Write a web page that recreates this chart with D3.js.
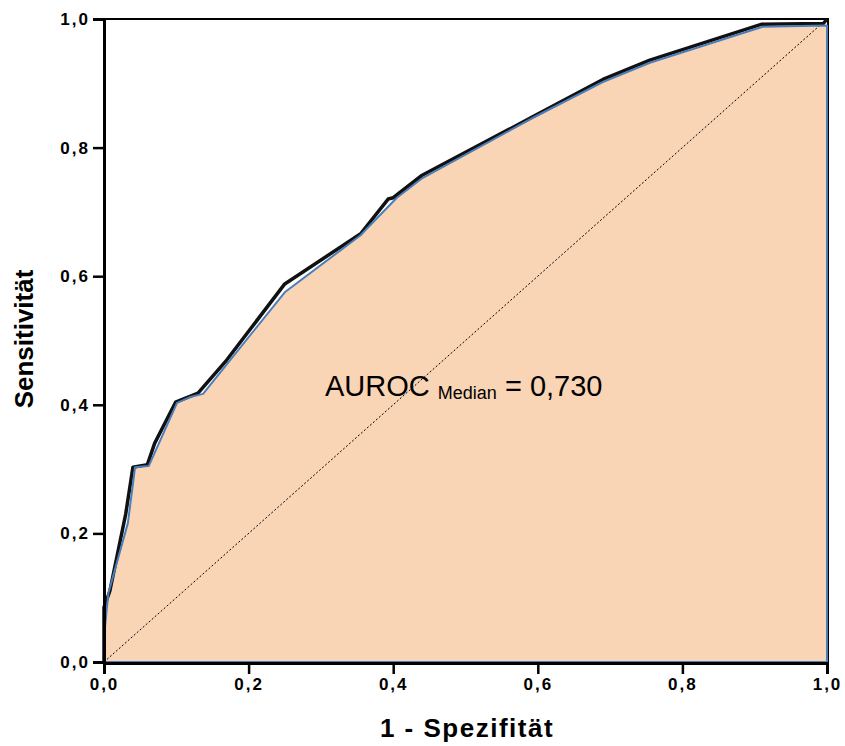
<!DOCTYPE html>
<html>
<head>
<meta charset="utf-8">
<script src="https://cdn.jsdelivr.net/npm/d3@7"></script>
<style>
  body { margin: 0; background: #fff; }
  svg { display: block; }
</style>
</head>
<body>
<div class="canvas"></div>
<script>
// data
// empirical ROC curve (black)
const rocX = [0, 0, 0.008, 0.03, 0.04, 0.06, 0.07, 0.099, 0.13, 0.17, 0.25, 0.355, 0.393, 0.40, 0.44, 0.60, 0.69, 0.755, 0.91, 0.995, 1]
const rocY = [0, 0.085, 0.11, 0.23, 0.303, 0.307, 0.34, 0.404, 0.418, 0.47, 0.588, 0.666, 0.72, 0.722, 0.757, 0.852, 0.906, 0.936, 0.992, 0.993, 1]
// median curve (blue outline of the shaded area)
const fitX = [0, 0.001, 0.006, 0.033, 0.043, 0.062, 0.101, 0.119, 0.137, 0.25, 0.354, 0.405, 0.441, 0.596, 0.69, 0.755, 0.911, 0.999, 1]
const fitY = [0, 0.05, 0.107, 0.216, 0.303, 0.305, 0.403, 0.412, 0.417, 0.575, 0.663, 0.722, 0.753, 0.848, 0.902, 0.932, 0.988, 0.99, 0.99]
const ticks = [0, 0.2, 0.4, 0.6, 0.8, 1.0]
const xTitle = '1 - Spezifität'
const yTitle = 'Sensitivität'
const aurocValue = '0,730'

// 1 - dimensions
const dims = { width: 845, height: 746 }
const plot = { left: 104, right: 827, top: 19, bottom: 662 }

const svg = d3.select('.canvas')
    .append('svg')
    .attr('width', dims.width)
    .attr('height', dims.height)

// 2 - scales
const x = d3.scaleLinear().domain([0, 1]).range([plot.left, plot.right])
const y = d3.scaleLinear().domain([0, 1]).range([plot.bottom, plot.top])

const fmt = d => d3.format('.1f')(d).replace('.', ',')

// 3 - shaded area under the median curve
const fitPts = fitX.map((v, i) => [v, fitY[i]])
const poly = fitPts.concat([[1, 0], [0, 0]])
const line = d3.line().x(d => x(d[0])).y(d => y(d[1]))

svg.append('path')
    .attr('d', line(poly) + 'Z')
    .attr('fill', '#fad5b5')
    .attr('stroke', 'none')

// frame top / right
svg.append('path')
    .attr('d', `M${x(0)},${y(1)}H${x(1) + 1}V${y(0)}`)
    .attr('fill', 'none')
    .attr('stroke', '#000')
    .attr('stroke-width', 2)

// diagonal reference line
svg.append('line')
    .attr('x1', x(0)).attr('y1', y(0))
    .attr('x2', x(1)).attr('y2', y(1))
    .attr('stroke', '#000')
    .attr('stroke-width', 1)
    .attr('stroke-dasharray', '2,2')

// empirical ROC
const rocPts = rocX.map((v, i) => [v, rocY[i]])
svg.append('path')
    .attr('d', line(rocPts))
    .attr('fill', 'none')
    .attr('stroke', '#111')
    .attr('stroke-width', 3.5)
    .attr('stroke-linejoin', 'round')

// blue outline
svg.append('path')
    .attr('d', line(poly) + 'Z')
    .attr('fill', 'none')
    .attr('stroke', '#4a7ebb')
    .attr('stroke-width', 2)
    .attr('stroke-linejoin', 'round')

// 4 - axes
const xAxis = d3.axisBottom(x).tickValues(ticks).tickFormat(fmt).tickSize(11).tickPadding(4)
const yAxis = d3.axisLeft(y).tickValues(ticks).tickFormat(fmt).tickSize(11).tickPadding(3)

const gx = svg.append('g')
    .attr('transform', `translate(0, ${plot.bottom + 1})`)
    .call(xAxis)
const gy = svg.append('g')
    .attr('transform', `translate(${plot.left}, 0)`)
    .call(yAxis)

;[gx, gy].forEach(g => {
    g.select('.domain').attr('stroke-width', 3)
    g.selectAll('.tick line').attr('stroke-width', 2.5)
    g.selectAll('.tick text')
        .attr('font-family', 'Liberation Sans, Arial, sans-serif')
        .attr('font-size', 17)
        .attr('font-weight', 'bold')
        .attr('letter-spacing', 2)
        .attr('fill', '#000')
})

// 5 - axis titles
svg.append('text')
    .attr('x', 467)
    .attr('y', 737)
    .attr('text-anchor', 'middle')
    .attr('font-family', 'Liberation Sans, Arial, sans-serif')
    .attr('font-size', 26)
    .attr('font-weight', 'bold')
    .attr('letter-spacing', 1.5)
    .text(xTitle)

svg.append('text')
    .attr('transform', 'translate(33, 339) rotate(-90)')
    .attr('text-anchor', 'middle')
    .attr('font-family', 'Liberation Sans, Arial, sans-serif')
    .attr('font-size', 26)
    .attr('font-weight', 'bold')
    .text(yTitle)

// 6 - annotation
const note = svg.append('text')
    .attr('x', 325)
    .attr('y', 396)
    .attr('font-family', 'Liberation Sans, Arial, sans-serif')
    .attr('font-size', 29)
    .attr('fill', '#000')
note.append('tspan').text('AUROC ')
note.append('tspan').attr('font-size', 18).attr('dy', 3).text('Median')
note.append('tspan').attr('dy', -3).text(' = ' + aurocValue)
</script>
</body>
</html>
